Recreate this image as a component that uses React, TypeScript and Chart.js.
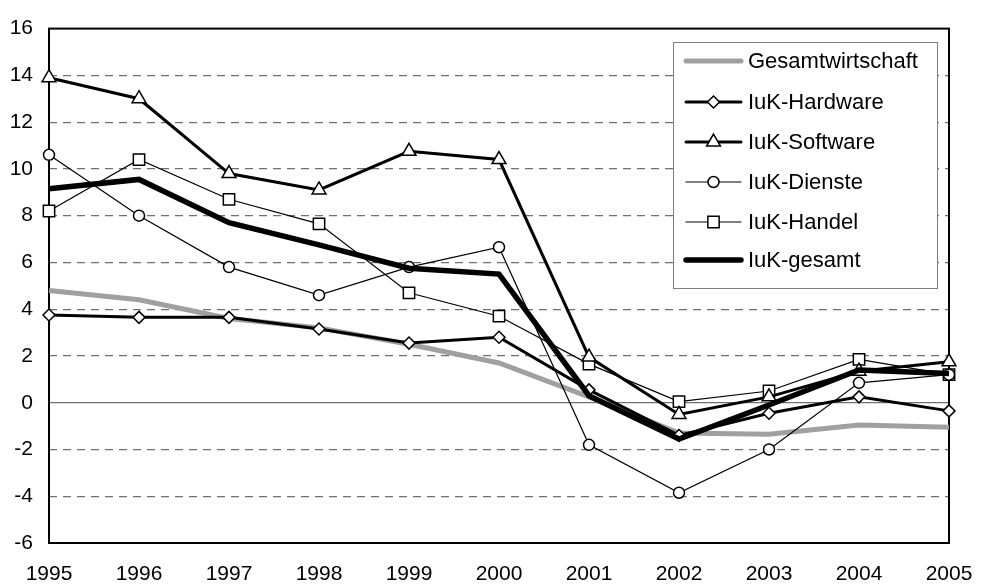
import React, { useEffect, useRef } from "react";
import { Chart, registerables } from "chart.js";

Chart.register(...registerables);

const years = ["1995", "1996", "1997", "1998", "1999", "2000", "2001", "2002", "2003", "2004", "2005"];
const gesamtwirtschaft = [4.8, 4.4, 3.6, 3.2, 2.5, 1.7, 0.25, -1.3, -1.35, -0.95, -1.05];
const hardware = [3.75, 3.65, 3.65, 3.15, 2.55, 2.8, 0.55, -1.4, -0.45, 0.25, -0.35];
const software = [13.9, 13.0, 9.8, 9.1, 10.75, 10.4, 1.95, -0.5, 0.25, 1.35, 1.75];
const dienste = [10.6, 8.0, 5.8, 4.6, 5.8, 6.65, -1.8, -3.85, -2.0, 0.85, 1.2];
const handel = [8.2, 10.4, 8.7, 7.65, 4.7, 3.7, 1.65, 0.05, 0.5, 1.85, 1.2];
const gesamt = [9.15, 9.55, 7.7, 6.75, 5.75, 5.5, 0.3, -1.55, -0.1, 1.4, 1.25];
const yMin = -6;
const yMax = 16;
const yStep = 2;

const FONT = "'Liberation Sans', Arial, sans-serif";

function drawMarker(ctx: CanvasRenderingContext2D, style: string, x: number, y: number, r: number) {
  ctx.beginPath();
  if (style === "circle") {
    ctx.arc(x, y, r, 0, Math.PI * 2);
  } else if (style === "rectRot") {
    ctx.moveTo(x, y - r);
    ctx.lineTo(x + r, y);
    ctx.lineTo(x, y + r);
    ctx.lineTo(x - r, y);
    ctx.closePath();
  } else if (style === "triangle") {
    let a = 0;
    ctx.moveTo(x + Math.sin(a) * r, y - Math.cos(a) * r);
    a += (2 * Math.PI) / 3;
    ctx.lineTo(x + Math.sin(a) * r, y - Math.cos(a) * r);
    a += (2 * Math.PI) / 3;
    ctx.lineTo(x + Math.sin(a) * r, y - Math.cos(a) * r);
    ctx.closePath();
  } else if (style === "rect") {
    const s = Math.SQRT1_2 * r;
    ctx.rect(x - s, y - s, 2 * s, 2 * s);
  } else {
    return;
  }
  ctx.fillStyle = "#ffffff";
  ctx.fill();
  ctx.lineWidth = 1.5;
  ctx.strokeStyle = "#000000";
  ctx.stroke();
}

const framePlugin = {
  id: "frame",
  beforeDatasetsDraw(chart: any) {
    const { ctx, chartArea } = chart;
    const y = chart.scales.y;
    const y0 = y.getPixelForValue(0);
    ctx.save();
    ctx.strokeStyle = "#707070";
    ctx.lineWidth = 1.3;
    ctx.beginPath();
    ctx.moveTo(chartArea.left, y0);
    ctx.lineTo(chartArea.right, y0);
    ctx.stroke();
    ctx.strokeStyle = "#000000";
    ctx.lineWidth = 2;
    ctx.strokeRect(chartArea.left, chartArea.top, chartArea.right - chartArea.left, chartArea.bottom - chartArea.top);
    ctx.restore();
  },
};

const legendPlugin = {
  id: "customLegend",
  afterDatasetsDraw(chart: any) {
    const { ctx } = chart;
    const bx = 673, by = 42, bw = 264, bh = 246;
    ctx.save();
    ctx.fillStyle = "#ffffff";
    ctx.fillRect(bx, by, bw, bh);
    ctx.strokeStyle = "#808080";
    ctx.lineWidth = 1;
    ctx.strokeRect(bx + 0.5, by + 0.5, bw, bh);
    const rows = [61, 102, 142, 182, 222, 260];
    const ds = chart.data.datasets;
    ds.forEach((d: any, i: number) => {
      const yy = rows[i];
      ctx.strokeStyle = d.borderColor;
      ctx.lineWidth = d.borderWidth;
      ctx.lineCap = "round";
      ctx.beginPath();
      ctx.moveTo(686, yy);
      ctx.lineTo(741, yy);
      ctx.stroke();
      if (d.pointRadius > 0) drawMarker(ctx, d.pointStyle, 713.5, yy, d.pointRadius);
      ctx.fillStyle = "#000000";
      ctx.font = `22px ${FONT}`;
      ctx.textBaseline = "middle";
      ctx.textAlign = "left";
      ctx.fillText(d.label, 748, yy + 1);
    });
    ctx.restore();
  },
};

export default function App() {
  const ref = useRef<HTMLCanvasElement | null>(null);
  useEffect(() => {
    document.body.style.margin = "0";
    if (!ref.current) return;
    const mk = (label: string, data: number[], color: string, width: number, style: string, radius: number, order: number) => ({
      label,
      data,
      borderColor: color,
      backgroundColor: "#ffffff",
      borderWidth: width,
      pointStyle: style,
      pointRadius: radius,
      pointBorderColor: "#000000",
      pointBackgroundColor: "#ffffff",
      pointBorderWidth: 1.5,
      tension: 0,
      order,
    });
    const chart = new Chart(ref.current, {
      type: "line",
      data: {
        labels: years,
        datasets: [
          mk("Gesamtwirtschaft", gesamtwirtschaft, "#a0a0a0", 5, "circle", 0, 6),
          mk("IuK-Hardware", hardware, "#000000", 3, "rectRot", 6, 3),
          mk("IuK-Software", software, "#000000", 3, "triangle", 8, 2),
          mk("IuK-Dienste", dienste, "#000000", 1.2, "circle", 5.5, 4),
          mk("IuK-Handel", handel, "#000000", 1.2, "rect", 8, 5),
          mk("IuK-gesamt", gesamt, "#000000", 5.5, "circle", 0, 1),
        ],
      },
      options: {
        responsive: false,
        animation: false,
        events: [],
        layout: { padding: { top: 19, right: 54, left: 0, bottom: 0 } },
        plugins: { legend: { display: false }, tooltip: { enabled: false } },
        scales: {
          x: {
            type: "category",
            offset: false,
            grid: { display: false, drawTicks: false },
            border: { display: false },
            ticks: {
              color: "#000000",
              font: { family: FONT, size: 21 },
              padding: 19,
              maxRotation: 0,
              autoSkip: false,
            },
            afterFit: (s: any) => {
              s.height = 43;
            },
          },
          y: {
            min: yMin,
            max: yMax,
            grid: {
              drawTicks: false,
              color: (c: any) => (c.tick && (c.tick.value === 0 || c.tick.value === yMax || c.tick.value === yMin) ? "transparent" : "#707070"),
              lineWidth: 1.2,
            },
            border: { display: false, dash: [8, 6] },
            ticks: {
              stepSize: yStep,
              color: "#000000",
              font: { family: FONT, size: 21 },
              padding: 16,
            },
            afterFit: (s: any) => {
              s.width = 49;
            },
          },
        },
      },
      plugins: [framePlugin, legendPlugin],
    } as any);
    return () => chart.destroy();
  }, []);
  return (
    <div style={{ width: 1003, height: 586, background: "#ffffff" }}>
      <canvas ref={ref} width={1003} height={586} style={{ display: "block" }} />
    </div>
  );
}
